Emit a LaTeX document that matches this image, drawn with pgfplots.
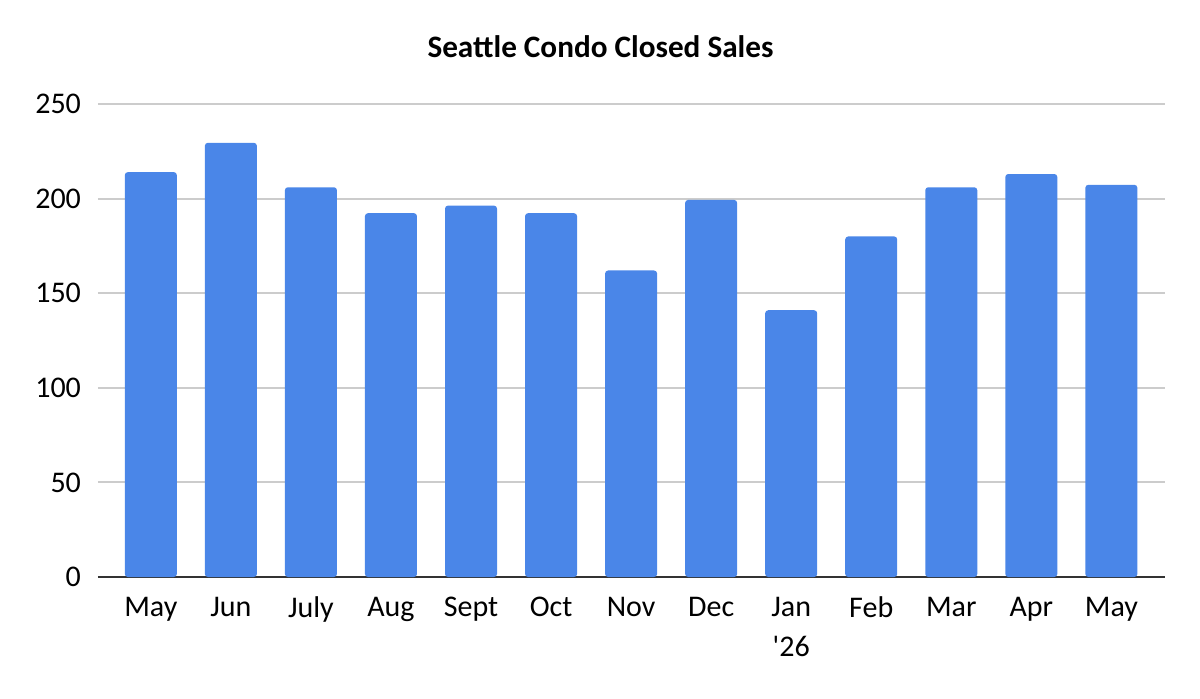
\documentclass[border=0pt]{standalone}
\usepackage{pgfplots}
\pgfplotsset{compat=1.18}
\usepackage{fontspec}
\setmainfont{Carlito}
\definecolor{barblue}{HTML}{4A86E8}
\begin{document}
\begin{tikzpicture}[x=1pt,y=1pt]
\useasboundingbox (-49,-60.5) rectangle (551,288.5);
\begin{axis}[at={(0,0)}, anchor=south west, scale only axis,
  width=533.5pt, height=236.5pt,
  ymin=0, ymax=250, ytick={0,50,...,250},
  xmin=-0.66, xmax=12.67,
  xtick={0,...,12},
  xticklabels={May,Jun,July,Aug,Sept,Oct,Nov,Dec,{Jan\\\textquotesingle 26},Feb,Mar,Apr,May},
  xticklabel style={align=center, font=\fontsize{15}{20}\selectfont, yshift=-6.5pt},
  yticklabel style={font=\fontsize{15}{19}\selectfont, xshift=-5pt},
  /pgf/number format/assume math mode=true,
  ymajorgrids, grid style={color=black!20, line width=1pt},
  axis x line*=bottom, axis y line*=left,
  y axis line style={draw=none},
  x axis line style={draw=black!80, line width=1pt, -},
  major tick length=0pt,
  title={Seattle Condo Closed Sales},
  title style={at={(0.5,1)}, anchor=center, yshift=22.5pt, xshift=-15.5pt, font=\bfseries\fontsize{15.6}{18}\selectfont},
  ybar, bar width=26pt,
]
\addplot[fill=barblue, draw=none, rounded corners=1.5pt] coordinates {
(0,214) (1,229.5) (2,206) (3,192.3) (4,196.3) (5,192.3) (6,162) (7,199.3) (8,141) (9,180) (10,206) (11,213) (12,207.3)};
\end{axis}
\end{tikzpicture}
\end{document}
